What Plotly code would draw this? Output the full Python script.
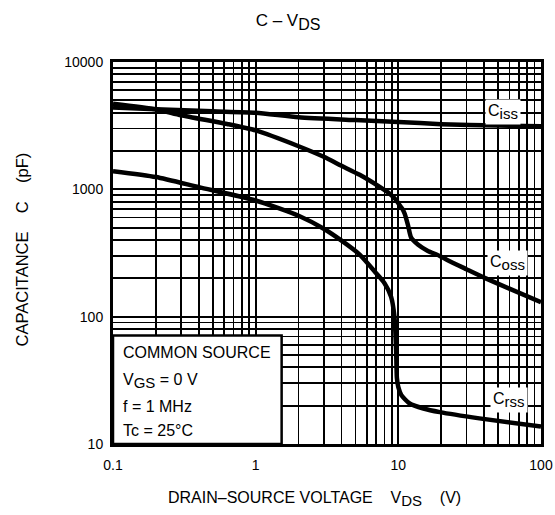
import plotly.graph_objects as go

# ---- data ----
ciss_v = [0.1, 0.2, 0.5, 1.0, 2.0, 5.0, 10.0, 20.0, 50.0, 100.0]
ciss_c = [4400, 4250, 4100, 4000, 3680, 3500, 3380, 3250, 3170, 3130]

coss_v = [0.1, 0.2, 0.3, 0.63, 1.0, 2.0, 3.0, 4.0, 5.36, 7.4, 8.7, 9.6, 10.2, 10.7,
          11.1, 11.7, 12.3, 13.7, 16.0, 19.5, 22.0, 30.0, 41.0, 60.0, 100.0]
coss_c = [4700, 4250, 3820, 3260, 2900, 2180, 1800, 1530, 1300, 1045, 924, 830, 751, 700,
          640, 520, 417, 369, 330, 300, 279, 236, 200, 166, 130]

crss_v = [0.1, 0.2, 0.4, 1.0, 2.0, 3.0, 4.0, 5.36, 7.0, 8.0, 8.9, 9.4, 9.65, 9.77,
          10.0, 10.5, 12.0, 15.0, 19.5, 37.0, 100.0]
crss_c = [1390, 1250, 1040, 817, 620, 490, 395, 307, 219, 183, 143, 99, 54, 33,
          28, 24.2, 20.8, 19.0, 17.8, 15.9, 13.7]

x_decades = [0.1, 1, 10, 100]
x_tick_labels = ["0.1", "1", "10", "100"]
y_decades = [10, 100, 1000, 10000]
y_tick_labels = ["10", "100", "1000", "10000"]


def sub(s, size):
    return "<sub><span style='font-size:%dpx'>%s</span></sub>" % (size, s)


box_lines = ["COMMON SOURCE", "V" + sub("GS", 15) + " = 0 V", "f = 1 MHz", "Tc = 25°C"]
curve_names = ["C" + sub("iss", 15), "C" + sub("oss", 15), "C" + sub("rss", 15)]

title_text = "C – V" + sub("DS", 16)
x_title = "DRAIN–SOURCE VOLTAGE\u00a0\u00a0\u00a0 V" + sub("DS", 15) + "\u00a0\u00a0\u00a0 (V)"
y_title = "CAPACITANCE\u00a0\u00a0\u00a0 C\u00a0\u00a0\u00a0 (pF)"

# ---- build log grid ticks ----
def log_ticks(decades, labels):
    vals, texts = [], []
    for i, d in enumerate(decades):
        if i < len(decades) - 1:
            for m in range(1, 10):
                vals.append(d * m)
                texts.append(labels[i] if m == 1 else "")
        else:
            vals.append(d)
            texts.append(labels[i])
    return vals, texts

xv, xt = log_ticks(x_decades, x_tick_labels)
yv, yt = log_ticks(y_decades, y_tick_labels)

FONT = "Arial, Liberation Sans, sans-serif"

fig = go.Figure()
line_style = dict(color="black", width=4.5, shape="spline", smoothing=0.6)
for v, c in [(ciss_v, ciss_c), (coss_v, coss_c), (crss_v, crss_c)]:
    fig.add_trace(go.Scatter(x=v, y=c, mode="lines", line=line_style,
                             showlegend=False, hoverinfo="skip"))

fig.update_layout(
    width=555, height=515,
    margin=dict(l=113, r=14, t=62, b=71, autoexpand=False),
    paper_bgcolor="white", plot_bgcolor="white",
    font=dict(family=FONT, color="black", size=14),
    showlegend=False,
    title=dict(text=title_text, x=0.519, xanchor="center", y=0.961, yanchor="middle",
               font=dict(size=17, family=FONT, color="black")),
)
fig.update_xaxes(type="log", range=[-1, 2], tickvals=xv, ticktext=xt,
                 showgrid=True, gridcolor="black", gridwidth=1.7,
                 showline=True, linecolor="black", linewidth=3, mirror=True,
                 ticks="", ticklabelstandoff=6, zeroline=False, automargin=False,
                 tickfont=dict(size=14, family=FONT, color="black"))
fig.update_yaxes(type="log", range=[1, 4], tickvals=yv, ticktext=yt,
                 showgrid=True, gridcolor="black", gridwidth=1.7,
                 showline=True, linecolor="black", linewidth=3, mirror=True,
                 ticks="", ticklabelstandoff=4, zeroline=False, automargin=False,
                 tickfont=dict(size=14, family=FONT, color="black"))

# condition box
fig.add_shape(type="rect", xref="paper", yref="paper", x0=0, x1=0.394, y0=0, y1=0.284,
              fillcolor="white", line=dict(color="black", width=2.5), layer="above")
box_y = [0.240, 0.166, 0.098, 0.035]
for txt, yy in zip(box_lines, box_y):
    fig.add_annotation(text=txt, xref="paper", yref="paper", x=0.0196, y=yy,
                       xanchor="left", yanchor="middle", showarrow=False,
                       font=dict(size=16, family=FONT, color="black"))

# curve labels
label_pos = [(0.912, 0.868), (0.922, 0.474), (0.926, 0.115)]
for txt, (xx, yy) in zip(curve_names, label_pos):
    fig.add_annotation(text=txt, xref="paper", yref="paper", x=xx, y=yy,
                       xanchor="center", yanchor="middle", showarrow=False,
                       bgcolor="white", borderpad=2,
                       font=dict(size=16, family=FONT, color="black"))

# axis titles
fig.add_annotation(text=x_title, xref="paper", yref="paper", x=0.47, y=-0.143,
                   xanchor="center", yanchor="middle", showarrow=False,
                   font=dict(size=16, family=FONT, color="black"))
fig.add_annotation(text=y_title, xref="paper", yref="paper", x=-0.213, y=0.509,
                   xanchor="center", yanchor="middle", showarrow=False, textangle=-90,
                   font=dict(size=16.5, family=FONT, color="black"))

fig.write_html("out.html",
               config={"displayModeBar": False, "staticPlot": True},
               post_script="document.body.style.margin='0';document.body.style.overflow='hidden';")
